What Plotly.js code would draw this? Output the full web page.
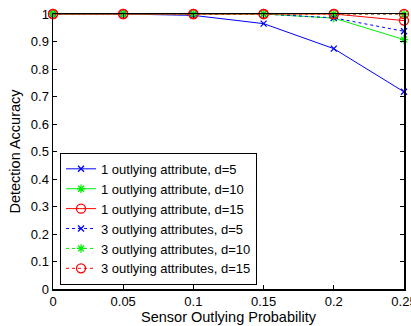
<!DOCTYPE html>
<html>
<head>
<meta charset="utf-8">
<script src="https://cdn.plot.ly/plotly-3.0.1.min.js"></script>
<style>html,body{margin:0;padding:0;background:#fff;}#chart{width:411px;height:326px;}</style>
</head>
<body>
<div id="chart"></div>
<script>
const probs = [0, 0.05, 0.1, 0.15, 0.2, 0.25];
const one_d5  = [1, 1, 0.995, 0.965, 0.874, 0.717];
const one_d10 = [1, 1, 1, 1, 0.985, 0.907];
const one_d15 = [1, 1, 1, 1, 1, 0.976];
const three_d5  = [1, 1, 1, 1, 0.986, 0.937];
const three_d10 = [1, 1, 1, 1, 1, 1];
const three_d15 = [1, 1, 1, 1, 1, 1];
const names = [
  "1 outlying attribute, d=5",
  "1 outlying attribute, d=10",
  "1 outlying attribute, d=15",
  "3 outlying attributes, d=5",
  "3 outlying attributes, d=10",
  "3 outlying attributes, d=15"
];
const xTicks = [0, 0.05, 0.1, 0.15, 0.2, 0.25];
const xTickText = ["0", "0.05", "0.1", "0.15", "0.2", "0.25"];
const yTicks = [0, 0.1, 0.2, 0.3, 0.4, 0.5, 0.6, 0.7, 0.8, 0.9, 1];
const yTickText = ["0", "0.1", "0.2", "0.3", "0.4", "0.5", "0.6", "0.7", "0.8", "0.9", "1"];

const series = [one_d5, one_d10, one_d15, three_d5, three_d10, three_d15];
const colors = ["#0000ff", "#00ee00", "#ff0000", "#0000ff", "#00ee00", "#ff0000"];
const dashes = ["solid", "solid", "solid", "dot", "dot", "dot"];
const symbols = ["x-thin-open", "asterisk-open", "circle-open", "x-thin-open", "asterisk-open", "circle-open"];
const sizes = [6, 7, 9, 6, 7, 9];

const traces = series.map((ys, i) => ({
  x: probs, y: ys, name: names[i], type: "scatter", mode: "lines+markers",
  line: {color: colors[i], width: 1, dash: dashes[i]},
  marker: {symbol: symbols[i], size: sizes[i], color: colors[i], line: {color: colors[i], width: 1.3}},
  cliponaxis: false
}));

const font = {family: "Liberation Sans, Arial, sans-serif", size: 12, color: "#000"};
const layout = {
  width: 411, height: 326,
  margin: {l: 53, r: 7, t: 14, b: 37},
  paper_bgcolor: "#fff", plot_bgcolor: "#fff",
  font: font,
  showlegend: true,
  legend: {x: 0.02, y: 0.015, xanchor: "left", yanchor: "bottom",
           bgcolor: "#fff", bordercolor: "#000", borderwidth: 1,
           font: {family: font.family, size: 13, color: "#000"},
           tracegroupgap: 0, itemwidth: 30},
  xaxis: {range: [0, 0.25], tickvals: xTicks, ticktext: xTickText,
          ticks: "inside", ticklen: 4, tickcolor: "#000", mirror: "ticks",
          ticklabeloverflow: "allow",
          showline: true, linecolor: "#000", linewidth: 1.5, showgrid: false, zeroline: false,
          tickfont: {family: font.family, size: 13, color: "#000"},
          title: {text: "Sensor Outlying Probability", font: {family: font.family, size: 14.5, color: "#000"}, standoff: 3}},
  yaxis: {range: [0, 1], tickvals: yTicks, ticktext: yTickText,
          ticks: "inside", ticklen: 4, tickcolor: "#000", mirror: "ticks",
          showline: true, linecolor: "#000", linewidth: 1.5, showgrid: false, zeroline: false,
          tickfont: {family: font.family, size: 13, color: "#000"},
          title: {text: "Detection Accuracy", font: {family: font.family, size: 14.5, color: "#000"}, standoff: 6}}
};
Plotly.newPlot("chart", traces, layout, {displayModeBar: false, staticPlot: true});
</script>
</body>
</html>
